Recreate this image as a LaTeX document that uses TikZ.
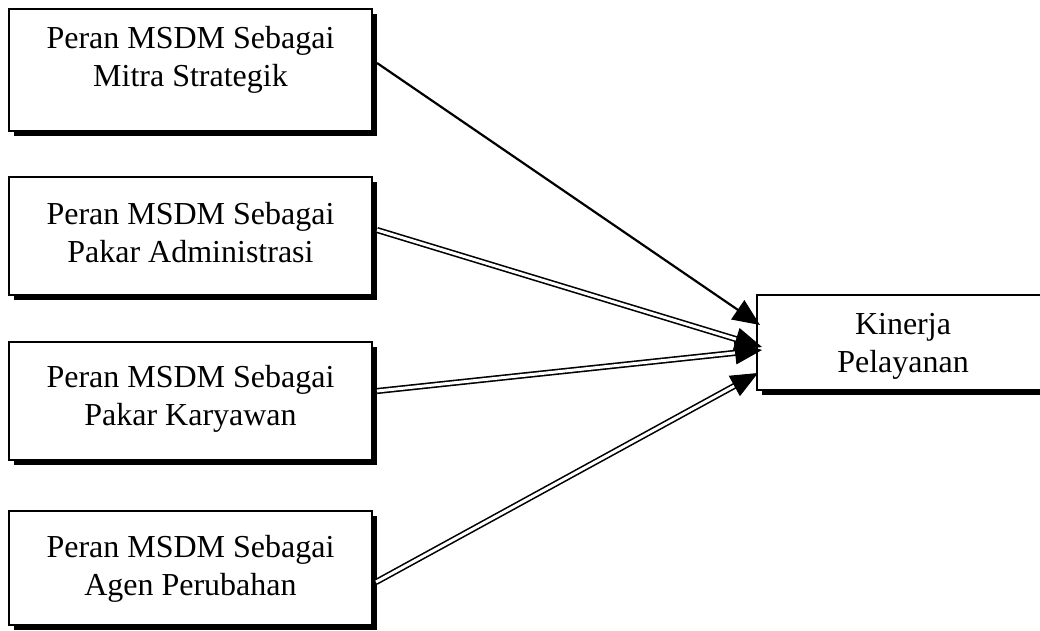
\documentclass[tikz,border=0pt]{standalone}
\usepackage{fontspec}
\setmainfont{Liberation Serif}
\usetikzlibrary{arrows.meta,shadows,calc}
\begin{document}
\begin{tikzpicture}[x=1pt,y=-1pt,
  box/.style={draw=black, line width=1.8pt, fill=white, rectangle, inner sep=0pt,
     drop shadow={fill=black, opacity=1, shadow xshift=5pt, shadow yshift=-5pt}},
  lbl/.style={font=\fontsize{32}{38}\selectfont, align=center, anchor=north, inner sep=0pt},
  single/.style={line width=2.2pt, -{Triangle[length=27pt,width=23pt]}},
  dbl/.style={double=white, double distance=3pt, line width=1.6pt, shorten >=22pt},
  tipst/.style={-{Triangle[length=27pt,width=23pt]}, line width=1pt}]
\clip (0,0) rectangle (1040,630);
\fill[white] (0,0) rectangle (1040,630);
% boxes
\node[box, minimum width=363pt, minimum height=122pt] (b1) at (190.5,70) {};
\node[box, minimum width=363pt, minimum height=118pt] (b2) at (190.5,236) {};
\node[box, minimum width=363pt, minimum height=118pt] (b3) at (190.5,401) {};
\node[box, minimum width=363pt, minimum height=114pt] (b4) at (190.5,568) {};
\node[box, minimum width=293pt, minimum height=95pt] (t) at (903.5,342.5) {};
% labels
\node[lbl] (l1) at (190.5,26) {Peran MSDM Sebagai\\Mitra Strategik};
\node[lbl] (l2) at (190.5,202) {Peran MSDM Sebagai\\Pakar Administrasi};
\node[lbl] (l3) at (190.5,365) {Peran MSDM Sebagai\\Pakar Karyawan};
\node[lbl] (l4) at (190.5,535) {Peran MSDM Sebagai\\Agen Perubahan};
\node[lbl] (lt) at (903,313) {Kinerja\\Pelayanan};
% connector end points
\coordinate (s1) at (377,63);  \coordinate (e1) at (760,325);
\coordinate (s2) at (377,230); \coordinate (e2) at (762,347);
\coordinate (s3) at (377,391); \coordinate (e3) at (762,350);
\coordinate (s4) at (376,582); \coordinate (e4) at (758,373);
% connectors
\draw[single] (s1) -- (e1);
\draw[dbl] (s2) -- (e2);
\draw[tipst] ($(e2)!27pt!(s2)$) -- (e2);
\draw[dbl] (s3) -- (e3);
\draw[tipst] ($(e3)!27pt!(s3)$) -- (e3);
\draw[dbl] (s4) -- (e4);
\draw[tipst] ($(e4)!27pt!(s4)$) -- (e4);
\end{tikzpicture}
\end{document}
